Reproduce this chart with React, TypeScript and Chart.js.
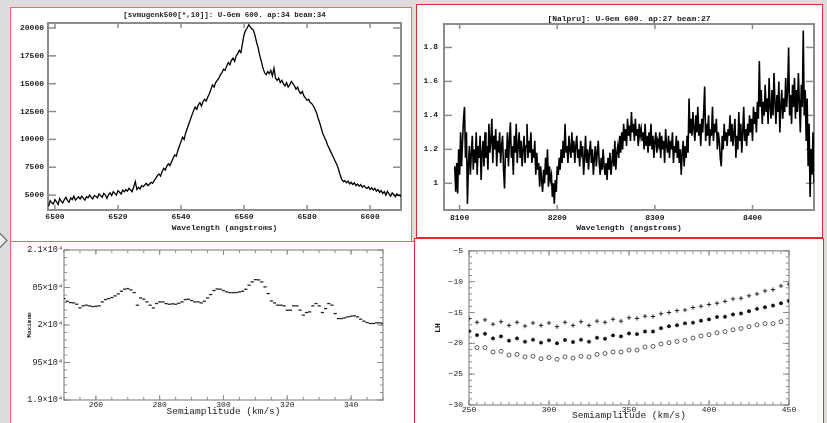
import React, { useEffect, useRef } from 'react';
import { Chart, registerables } from 'chart.js';

Chart.register(...registerables);

const FONT = "'Liberation Mono', 'DejaVu Sans Mono', monospace";
const INK = '#1c1c1c';
const AXIS = '#8c8c8c';

// ---------- top-left: H-alpha profile ----------
const HALPHA_TITLE = '[svmugenk500[*,10]]: U-Gem 600. ap:34 beam:34';
const WAVE_LABEL = 'Wavelength (angstroms)';
const HALPHA_START = 6498;
const HALPHA_STEP = 0.5;
const HALPHA_FLUX = [
  4000, 4500, 4300, 4200, 4600, 4400, 4150, 4700, 4450, 4300,
  4600, 4800, 4500, 4350, 4750, 4600, 4900, 4550, 4700, 4850,
  4650, 4900, 4700, 4550, 4850, 4750, 5000, 4800, 4650, 4950,
  4900, 4750, 5100, 4950, 4800, 5150, 5000, 4700, 5050, 5200,
  4950, 5300, 5150, 5000, 5400, 5250, 5100, 5450, 5300, 5500,
  5350, 5600, 5450, 5300, 5750, 6200, 5500, 5700, 5550, 5850,
  5750, 5900, 6050, 5850, 6000, 6150, 6050, 6300, 6500, 6750,
  6900, 6700, 7100, 7400, 7250, 7600, 7800, 7650, 8000, 8300,
  8600, 8500, 9000, 9400, 9800, 10200, 10000, 10600, 11000, 11400,
  11800, 12200, 12600, 12900, 12700, 13100, 13300, 13000, 13400, 13600,
  13450, 13800, 14100, 14500, 14900, 14700, 15100, 15300, 15500, 15800,
  16000, 16300, 16200, 16600, 16900, 16700, 17100, 17300, 17000, 17500,
  17700, 18000, 17800, 18600, 19400, 19800, 20000, 20300, 20100, 19900,
  19800, 19300, 18700, 18200, 17500, 17000, 16400, 16000, 15800, 16100,
  15900, 16200, 15700, 16400, 15500, 15300, 15500, 15100, 15300, 15000,
  14800, 15100, 14700, 14900, 15200, 15000, 14800, 14500, 14700, 14300,
  14100, 14300, 13900, 13700, 13500, 13600, 13300, 13200, 13000, 12700,
  12400, 11900, 11500, 11000, 10500, 10200, 9900, 9500, 9200, 8900,
  8600, 8300, 8000, 7700, 7300, 6800, 6400, 6200, 6300, 6100,
  6250, 6000, 6150, 5950, 6100, 5850, 6000, 5800, 5950, 5700,
  5850, 5700, 5600, 5750, 5500, 5650, 5450, 5600, 5350, 5500,
  5250, 5400, 5150, 5300, 5000, 5350, 5100, 4900, 5200, 5050,
  4850, 5100, 4950, 5000, 4800,
];
const HALPHA_X_TICKS = [6500, 6520, 6540, 6560, 6580, 6600];
const HALPHA_X_LABELS = ['6500', '6520', '6540', '6560', '6580', '6600'];
const HALPHA_Y_TICKS = [5000, 7500, 10000, 12500, 15000, 17500, 20000];
const HALPHA_Y_LABELS = ['5000', '7500', '10000', '12500', '15000', '17500', '20000'];

// ---------- top-right: near-IR continuum ----------
const NIR_TITLE = '[Nalpru]: U-Gem 600. ap:27 beam:27';
const NIR_START = 8095;
const NIR_STEP = 1;
const NIR_FLUX = [
  1.10, 0.95, 1.12, 0.94, 1.20, 1.05, 1.30, 1.10, 1.25, 1.38,
  1.45, 1.15, 1.30, 0.88, 1.10, 1.22, 1.05, 1.18, 1.28, 1.08,
  1.20, 1.12, 1.30, 1.05, 1.22, 1.15, 1.28, 1.02, 1.18, 1.25,
  1.10, 1.30, 1.15, 1.22, 1.08, 1.35, 1.18, 1.25, 1.38, 1.12,
  1.28, 1.20, 1.32, 1.10, 1.25, 1.18, 1.30, 1.12, 1.22, 1.28,
  1.08, 0.97, 1.20, 1.15, 1.30, 1.10, 1.25, 1.36, 1.15, 1.22,
  1.05, 1.28, 1.18, 1.35, 1.12, 1.22, 1.30, 1.15, 1.25, 1.10,
  1.20, 1.28, 1.12, 1.22, 1.35, 1.15, 1.25, 1.18, 1.30, 1.12,
  1.20, 1.15, 1.25, 1.05, 1.18, 1.08, 1.12, 0.98, 1.10, 1.02,
  0.95, 1.08, 1.00, 1.15, 1.05, 1.20, 0.98, 1.10, 1.02, 1.05,
  0.92, 1.00, 0.88, 1.02, 0.95, 1.10, 1.05, 1.15, 1.08, 1.20,
  1.12, 1.25, 1.15, 1.35, 1.18, 1.22, 1.12, 1.28, 1.20, 1.15,
  1.30, 1.18, 1.25, 1.12, 1.22, 1.28, 1.15, 1.20, 1.10, 1.25,
  1.18, 1.22, 1.05, 1.15, 1.28, 1.12, 1.20, 1.08, 1.18, 1.25,
  1.12, 1.20, 1.05, 1.15, 1.22, 1.10, 1.18, 1.25, 1.12, 1.05,
  1.15, 1.08, 1.20, 1.10, 1.05, 1.12, 1.02, 1.15, 1.08, 1.18,
  1.05, 1.12, 1.20, 1.10, 1.25, 1.08, 1.18, 1.22, 1.15, 1.28,
  1.18, 1.30, 1.20, 1.35, 1.25, 1.32, 1.22, 1.38, 1.28, 1.34,
  1.25, 1.42, 1.30, 1.35, 1.25, 1.38, 1.28, 1.32, 1.22, 1.35,
  1.28, 1.32, 1.25, 1.30, 1.20, 1.35, 1.22, 1.28, 1.18, 1.30,
  1.22, 1.35, 1.20, 1.28, 1.15, 1.25, 1.30, 1.18, 1.25, 1.22,
  1.30, 1.15, 1.28, 1.20, 1.25, 1.12, 1.32, 1.22, 1.18, 1.28,
  1.15, 1.25, 1.20, 1.30, 1.12, 1.22, 1.18, 1.28, 1.15, 1.25,
  1.12, 1.20, 1.05, 1.18, 1.25, 1.10, 1.22, 1.15, 1.28, 1.18,
  1.50, 1.30, 1.38, 1.28, 1.42, 1.32, 1.25, 1.40, 1.30, 1.45,
  1.28, 1.35, 1.22, 1.38, 1.30, 1.42, 1.57, 1.25, 1.35, 1.28,
  1.40, 1.22, 1.32, 1.28, 1.45, 1.25, 1.35, 1.30, 1.38, 1.20,
  1.30, 1.25, 1.15, 1.10, 1.28, 1.20, 1.35, 1.25, 1.30, 1.22,
  1.32, 1.28, 1.40, 1.25, 1.35, 1.22, 1.30, 1.38, 1.15, 1.28,
  1.20, 1.42, 1.25, 1.35, 1.18, 1.30, 1.45, 1.25, 1.32, 1.22,
  1.35, 1.28, 1.40, 1.30, 1.38, 1.25, 1.45, 1.35, 1.42, 1.30,
  1.48, 1.38, 1.72, 1.45, 1.55, 1.35, 1.48, 1.40, 1.58, 1.42,
  1.50, 1.35, 1.62, 1.45, 1.38, 1.55, 1.40, 1.65, 1.48, 1.35,
  1.52, 1.42, 1.60, 1.30, 1.45, 1.55, 1.38, 1.50, 1.42, 1.62,
  1.45, 1.55, 1.80, 1.40, 1.52, 1.35, 1.58, 1.45, 1.62, 1.38,
  1.55, 1.42, 1.65, 1.48, 1.30, 1.58, 1.45, 1.90, 1.40, 1.55,
  1.25, 1.50, 1.10, 1.35, 0.92, 1.20, 1.05, 1.30, 1.00,
];
const NIR_X_TICKS = [8100, 8200, 8300, 8400];
const NIR_X_LABELS = ['8100', '8200', '8300', '8400'];
const NIR_Y_TICKS = [1, 1.2, 1.4, 1.6, 1.8];
const NIR_Y_LABELS = ['1', '1.2', '1.4', '1.6', '1.8'];

// ---------- bottom-left: Maximum vs semiamplitude ----------
const SEMI_LABEL = 'Semiamplitude (km/s)';
const MAX_LABEL = 'Maximum';
const MAX_START = 250;
const MAX_STEP = 1;
const MAXIMUM = [
  20352, 20317, 20299, 20295, 20277, 20228, 20255, 20264, 20255, 20246,
  20250, 20255, 20308, 20339, 20352, 20366, 20388, 20415, 20450, 20477,
  20486, 20468, 20432, 20264, 20361, 20344, 20308, 20264, 20228, 20286,
  20308, 20308, 20286, 20277, 20282, 20277, 20290, 20308, 20339, 20344,
  20326, 20308, 20308, 20295, 20317, 20361, 20406, 20459, 20481, 20477,
  20459, 20441, 20432, 20432, 20432, 20441, 20450, 20477, 20530, 20574,
  20605, 20601, 20574, 20508, 20419, 20321, 20295, 20264, 20264, 20255,
  20197, 20197, 20255, 20255, 20197, 20131, 20166, 20175, 20255, 20286,
  20255, 20166, 20219, 20286, 20264, 20153, 20086, 20086, 20095, 20109,
  20117, 20122, 20109, 20078, 20051, 20033, 20020, 20020, 20029, 20029,
  20020,
];
const MAX_X_TICKS = [260, 280, 300, 320, 340];
const MAX_X_LABELS = ['260', '280', '300', '320', '340'];
const MAX_Y_TICKS = [19000, 19500, 20000, 20500, 21000];
const MAX_Y_LABELS = ['1.9×10⁴', '95×10⁴', '2×10⁴', '05×10⁴', '2.1×10⁴'];

// ---------- bottom-right: LH vs semiamplitude ----------
const LH_LABEL = 'LH';
const LH_START = 250;
const LH_STEP = 5;
const LH_PLUS = [
  -16.0, -16.6, -16.2, -16.9, -16.5, -17.1, -16.6, -17.2, -16.7, -17.1,
  -16.7, -17.3, -16.6, -17.1, -16.5, -17.1, -16.4, -16.6, -16.1, -16.4,
  -15.85, -15.96, -15.6, -15.65, -15.2, -15.0, -14.7, -14.6, -14.2, -14.0,
  -13.7, -13.5, -13.2, -12.8, -12.7, -12.3, -12.0, -11.5, -11.3, -10.7,
  -10.4,
];
const LH_FILLED = [
  -18.03, -18.67, -18.46, -19.2, -18.88, -19.57, -19.2, -19.73, -19.41, -19.89,
  -19.52, -20.0, -19.47, -19.79, -19.41, -19.73, -19.1, -19.26, -18.72, -18.88,
  -18.4, -18.51, -18.09, -18.09, -17.55, -17.23, -17.07, -16.76, -16.65, -16.33,
  -16.12, -15.74, -15.69, -15.32, -15.16, -14.79, -14.41, -14.15, -13.88, -13.51,
  -13.14,
];
const LH_OPEN = [
  null, -20.7, -20.7, -21.4, -21.3, -21.9, -21.8, -22.2, -22.1, -22.5,
  -22.3, -22.6, -22.2, -22.4, -22.1, -22.2, -21.8, -21.65, -21.4, -21.4,
  -21.1, -21.1, -20.6, -20.5, -20.1, -19.9, -19.7, -19.5, -19.15, -18.8,
  -18.6, -18.3, -18.1, -17.8, -17.6, -17.3, -17.0, -16.8, -16.8, -16.5,
  null,
];
const LH_X_TICKS = [250, 300, 350, 400, 450];
const LH_X_LABELS = ['250', '300', '350', '400', '450'];
const LH_Y_TICKS = [-30, -25, -20, -15, -10, -5];
const LH_Y_LABELS = ['−30', '−25', '−20', '−15', '−10', '−5'];

const toXY = (start: number, step: number, ys: (number | null)[]) =>
  ys.map((y, i) => ({ x: start + i * step, y }));

// frame + inward tick marks on all four sides
const framePlugin = {
  id: 'frameTicks',
  beforeDatasetsDraw(chart: any) {
    const o = chart.options.plugins.frameTicks;
    if (!o) return;
    const { ctx, chartArea } = chart;
    const { left, right, top, bottom } = chartArea;
    const xs = chart.scales.x;
    const ys = chart.scales.y;
    ctx.save();
    ctx.strokeStyle = AXIS;
    ctx.lineWidth = o.tickWidth;
    const seg = (x1: number, y1: number, x2: number, y2: number) => {
      ctx.beginPath();
      ctx.moveTo(x1, y1);
      ctx.lineTo(x2, y2);
      ctx.stroke();
    };
    const minors = (min: number, max: number, step: number) => {
      const out: number[] = [];
      if (!step) return out;
      for (let i = Math.ceil(min / step - 1e-9); i * step <= max + 1e-9; i++) out.push(i * step);
      return out;
    };
    const xTick = (v: number, len: number) => {
      const p = xs.getPixelForValue(v);
      if (p < left - 0.5 || p > right + 0.5) return;
      seg(p, bottom, p, bottom - len);
      seg(p, top, p, top + len);
    };
    const yTick = (v: number, len: number) => {
      const p = ys.getPixelForValue(v);
      if (p < top - 0.5 || p > bottom + 0.5) return;
      seg(left, p, left + len, p);
      seg(right, p, right - len, p);
    };
    minors(xs.min, xs.max, o.xMinor).forEach((v) => xTick(v, o.xMinorLen));
    minors(ys.min, ys.max, o.yMinor).forEach((v) => yTick(v, o.yMinorLen));
    o.xMajor.forEach((v: number) => xTick(v, o.xMajorLen));
    o.yMajor.forEach((v: number) => yTick(v, o.yMajorLen));
    ctx.lineWidth = o.frameWidth;
    ctx.strokeRect(left, top, right - left, bottom - top);
    ctx.restore();
  },
};

function makeOptions(s: any) {
  return {
    responsive: false,
    maintainAspectRatio: false,
    animation: false,
    events: [],
    layout: { padding: s.pad },
    plugins: {
      legend: { display: false },
      tooltip: { enabled: false },
      title: s.title
        ? {
            display: true,
            text: s.title,
            fullSize: false,
            color: INK,
            font: { family: FONT, size: s.titleSize, weight: 'bold' },
            padding: s.titlePad,
          }
        : { display: false },
      frameTicks: s.frame,
    },
    scales: {
      x: {
        type: 'linear',
        min: s.xMin,
        max: s.xMax,
        grid: { display: false, drawTicks: false },
        border: { display: false },
        afterBuildTicks: (sc: any) => {
          sc.ticks = s.xTicks.map((v: number) => ({ value: v }));
        },
        afterFit: (sc: any) => {
          sc.height = s.xHeight;
        },
        ticks: {
          autoSkip: false,
          maxRotation: 0,
          padding: s.xTickPad,
          color: INK,
          font: { family: FONT, size: s.tickSize, weight: s.tickWeight },
          callback: (_v: any, i: number) => s.xLabels[i],
        },
        title: {
          display: true,
          text: s.xTitle,
          color: INK,
          font: { family: FONT, size: s.xTitleSize, weight: s.titleWeight || s.tickWeight },
          padding: { top: 0, bottom: s.xTitlePad },
        },
      },
      y: {
        type: 'linear',
        min: s.yMin,
        max: s.yMax,
        grid: { display: false, drawTicks: false },
        border: { display: false },
        afterBuildTicks: (sc: any) => {
          sc.ticks = s.yTicks.map((v: number) => ({ value: v }));
        },
        afterFit: (sc: any) => {
          sc.width = s.yWidth;
        },
        ticks: {
          autoSkip: false,
          padding: s.yTickPad,
          color: INK,
          font: { family: FONT, size: s.yTickSize || s.tickSize, weight: s.tickWeight },
          callback: (_v: any, i: number) => s.yLabels[i],
        },
        title: s.yTitle
          ? {
              display: true,
              text: s.yTitle,
              color: INK,
              font: { family: FONT, size: s.yTitleSize, weight: 'bold' },
              padding: { top: s.yTitlePad, bottom: 0 },
            }
          : { display: false },
      },
    },
  };
}

const panel = (left: number, top: number, width: number, height: number, color: string): React.CSSProperties => ({
  position: 'absolute',
  left,
  top,
  width,
  height,
  boxSizing: 'border-box',
  border: `1px solid ${color}`,
  background: '#ffffff',
});

const canvasStyle = (left: number, top: number, width: number, height: number): React.CSSProperties => ({
  position: 'absolute',
  left,
  top,
  width,
  height,
});

export default function App() {
  const tl = useRef<HTMLCanvasElement>(null);
  const tr = useRef<HTMLCanvasElement>(null);
  const bl = useRef<HTMLCanvasElement>(null);
  const br = useRef<HTMLCanvasElement>(null);

  useEffect(() => {
    const charts: Chart[] = [];

    charts.push(
      new Chart(tl.current!, {
        type: 'line',
        data: {
          datasets: [
            {
              data: toXY(HALPHA_START, HALPHA_STEP, HALPHA_FLUX),
              borderColor: '#000',
              borderWidth: 1.3,
              pointRadius: 0,
              tension: 0,
            },
          ],
        },
        options: makeOptions({
          pad: { top: 0, right: 9, bottom: 0, left: 0 },
          title: HALPHA_TITLE,
          titleSize: 7.5,
          titlePad: { top: 2.5, bottom: 3.5 },
          xMin: 6497.8,
          xMax: 6609.8,
          yMin: 3660,
          yMax: 20450,
          xTicks: HALPHA_X_TICKS,
          xLabels: HALPHA_X_LABELS,
          yTicks: HALPHA_Y_TICKS,
          yLabels: HALPHA_Y_LABELS,
          xTitle: WAVE_LABEL,
          xTitleSize: 8,
          xTitlePad: 7.2,
          tickSize: 8,
          tickWeight: 'bold',
          xTickPad: 2,
          yTickPad: 4,
          yWidth: 37,
          xHeight: 30,
          frame: {
            xMajor: HALPHA_X_TICKS, yMajor: HALPHA_Y_TICKS,
            xMinor: 0, yMinor: 0,
            xMajorLen: 5, yMajorLen: 8, xMinorLen: 0, yMinorLen: 0,
            tickWidth: 1.5, frameWidth: 2,
          },
        }) as any,
        plugins: [framePlugin],
      })
    );

    charts.push(
      new Chart(tr.current!, {
        type: 'line',
        data: {
          datasets: [
            {
              data: toXY(NIR_START, NIR_STEP, NIR_FLUX),
              borderColor: '#000',
              borderWidth: 1.6,
              pointRadius: 0,
              tension: 0,
            },
          ],
        },
        options: makeOptions({
          pad: { top: 0, right: 7, bottom: 0, left: 0 },
          title: NIR_TITLE,
          titleSize: 8,
          titlePad: { top: 8.9, bottom: 0.5 },
          xMin: 8084,
          xMax: 8463,
          yMin: 0.843,
          yMax: 1.938,
          xTicks: NIR_X_TICKS,
          xLabels: NIR_X_LABELS,
          yTicks: NIR_Y_TICKS,
          yLabels: NIR_Y_LABELS,
          xTitle: WAVE_LABEL,
          xTitleSize: 8,
          xTitlePad: 3.5,
          tickSize: 8,
          tickWeight: 'bold',
          xTickPad: 3,
          yTickPad: 6,
          yWidth: 27,
          xHeight: 26,
          frame: {
            xMajor: NIR_X_TICKS, yMajor: NIR_Y_TICKS,
            xMinor: 0, yMinor: 0,
            xMajorLen: 5, yMajorLen: 8, xMinorLen: 0, yMinorLen: 0,
            tickWidth: 1.5, frameWidth: 2,
          },
        }) as any,
        plugins: [framePlugin],
      })
    );

    charts.push(
      new Chart(bl.current!, {
        type: 'scatter',
        data: {
          datasets: [
            {
              data: toXY(MAX_START, MAX_STEP, MAXIMUM),
              borderColor: '#222',
              backgroundColor: '#222',
              pointStyle: 'line',
              pointRadius: 1.6,
              borderWidth: 1.3,
            },
          ],
        },
        options: makeOptions({
          pad: { top: 8, right: 30, bottom: 0, left: 0 },
          xMin: 250,
          xMax: 350,
          yMin: 19000,
          yMax: 21000,
          xTicks: MAX_X_TICKS,
          xLabels: MAX_X_LABELS,
          yTicks: MAX_Y_TICKS,
          yLabels: MAX_Y_LABELS,
          xTitle: SEMI_LABEL,
          xTitleSize: 9.5,
          titleWeight: 'normal',
          xTitlePad: 6.3,
          tickSize: 8,
          yTickSize: 8.5,
          tickWeight: 'normal',
          xTickPad: 0,
          yTickPad: 1,
          yWidth: 53,
          xHeight: 23,
          yTitle: MAX_LABEL,
          yTitleSize: 6,
          yTitlePad: 14.4,
          frame: {
            xMajor: MAX_X_TICKS, yMajor: MAX_Y_TICKS,
            xMinor: 5, yMinor: 100,
            xMajorLen: 5, yMajorLen: 6, xMinorLen: 3, yMinorLen: 3,
            tickWidth: 1, frameWidth: 1.2,
          },
        }) as any,
        plugins: [framePlugin],
      })
    );

    charts.push(
      new Chart(br.current!, {
        type: 'scatter',
        data: {
          datasets: [
            {
              data: toXY(LH_START, LH_STEP, LH_PLUS),
              borderColor: '#222',
              backgroundColor: '#222',
              pointStyle: 'cross',
              pointRadius: 2.2,
              borderWidth: 1,
            },
            {
              data: toXY(LH_START, LH_STEP, LH_FILLED),
              borderColor: '#111',
              backgroundColor: '#111',
              pointStyle: 'circle',
              pointRadius: 1.7,
              borderWidth: 0.5,
            },
            {
              data: toXY(LH_START, LH_STEP, LH_OPEN),
              borderColor: '#333',
              backgroundColor: '#ffffff',
              pointStyle: 'circle',
              pointRadius: 2,
              borderWidth: 0.8,
            },
          ],
        },
        options: makeOptions({
          pad: { top: 8, right: 33, bottom: 0, left: 0 },
          xMin: 250,
          xMax: 450,
          yMin: -30,
          yMax: -5,
          xTicks: LH_X_TICKS,
          xLabels: LH_X_LABELS,
          yTicks: LH_Y_TICKS,
          yLabels: LH_Y_LABELS,
          xTitle: SEMI_LABEL,
          xTitleSize: 9.5,
          titleWeight: 'normal',
          xTitlePad: 1.6,
          tickSize: 8,
          tickWeight: 'normal',
          xTickPad: 0,
          yTickPad: 6,
          yWidth: 54,
          xHeight: 18,
          yTitle: LH_LABEL,
          yTitleSize: 8,
          yTitlePad: 18.2,
          frame: {
            xMajor: LH_X_TICKS, yMajor: LH_Y_TICKS,
            xMinor: 5, yMinor: 1,
            xMajorLen: 5, yMajorLen: 6, xMinorLen: 3, yMinorLen: 3,
            tickWidth: 1, frameWidth: 1.2,
          },
        }) as any,
        plugins: [framePlugin],
      })
    );

    return () => charts.forEach((c) => c.destroy());
  }, []);

  return (
    <div
      style={{
        position: 'fixed',
        left: 0,
        top: 0,
        width: 827,
        height: 423,
        overflow: 'hidden',
        background: '#dcdcdc',
      }}
    >
      <div style={panel(10, 7, 402, 235, '#f06a6a')} />
      <div style={panel(416, 4, 407, 234, '#e52a2a')} />
      <div style={panel(10, 241, 405, 200, '#f06a6a')} />
      <div style={panel(414, 238, 410, 200, '#e52a2a')} />
      <div
        style={{
          position: 'absolute',
          left: -8,
          top: 234,
          width: 11,
          height: 11,
          transform: 'rotate(45deg)',
          border: '1.5px solid #555',
          background: '#eeeeee',
        }}
      />
      <canvas ref={tl} width={399} height={232} style={canvasStyle(11, 8, 399, 232)} />
      <canvas ref={tr} width={404} height={231} style={canvasStyle(417, 5, 404, 231)} />
      <canvas ref={bl} width={402} height={181} style={canvasStyle(11, 242, 402, 181)} />
      <canvas ref={br} width={407} height={183} style={canvasStyle(415, 240, 407, 183)} />
    </div>
  );
}
